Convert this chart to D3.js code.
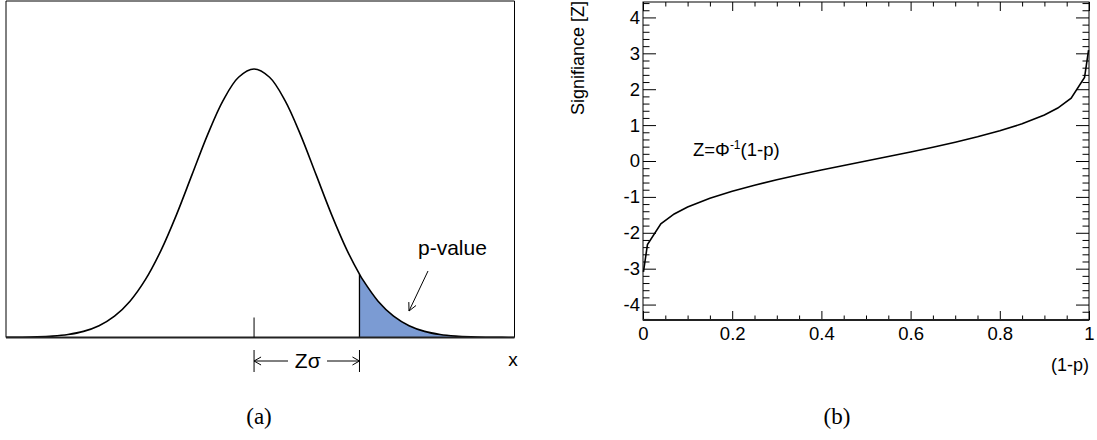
<!DOCTYPE html>
<html>
<head>
<meta charset="utf-8">
<script src="https://cdn.jsdelivr.net/npm/d3@7"></script>
<style>
  html, body { margin: 0; padding: 0; background: #fff; }
  svg { display: block; }
  text { font-family: "Liberation Sans", Arial, sans-serif; fill: #000; }
  .serif { font-family: "Liberation Serif", "DejaVu Serif", serif; }
</style>
</head>
<body>
<svg id="fig" width="1097" height="440"></svg>
<script>
// ---- panel (a): normal density, in units of sigma ----
const gaussX = [-4, -3.75, -3.5, -3.25, -3, -2.75, -2.5, -2.25, -2, -1.75, -1.5, -1.25, -1,
  -0.75, -0.5, -0.25, 0, 0.25, 0.5, 0.75, 1, 1.25, 1.5, 1.7, 1.75, 2, 2.25, 2.5, 2.75,
  3, 3.25, 3.5, 3.75, 4, 4.25];
const gaussPdf = [0.00013, 0.00035, 0.00087, 0.00203, 0.00443, 0.00909, 0.01753, 0.03174,
  0.05399, 0.08628, 0.12952, 0.18265, 0.24197, 0.30114, 0.35207, 0.38667, 0.39894,
  0.38667, 0.35207, 0.30114, 0.24197, 0.18265, 0.12952, 0.09405, 0.08628, 0.05399,
  0.03174, 0.01753, 0.00909, 0.00443, 0.00203, 0.00087, 0.00035, 0.00013, 0.00005];
const zCut = 1.7;            // observed significance, in sigma
const meanX = 0;

// ---- panel (b): significance versus (1-p) ----
const oneMinusP = [0.001, 0.01, 0.04, 0.07, 0.1, 0.15, 0.2, 0.25, 0.3, 0.35, 0.4, 0.45,
  0.5, 0.55, 0.6, 0.65, 0.7, 0.75, 0.8, 0.85, 0.9, 0.93, 0.96, 0.99, 0.999];
const significance = [-3.090, -2.326, -1.751, -1.476, -1.282, -1.036, -0.842, -0.674,
  -0.524, -0.385, -0.253, -0.126, 0, 0.126, 0.253, 0.385, 0.524, 0.674, 0.842, 1.036,
  1.282, 1.476, 1.751, 2.326, 3.090];
const xMajorTicks = [0, 0.2, 0.4, 0.6, 0.8, 1];
const xTickLabels = ["0", "0.2", "0.4", "0.6", "0.8", "1"];
const yMajorTicks = [-4, -3, -2, -1, 0, 1, 2, 3, 4];
const yTickLabels = ["-4", "-3", "-2", "-1", "0", "1", "2", "3", "4"];

const svg = d3.select("#fig");

// ================= panel (a) =================
const A = { left: 6, right: 514.5, top: 1, bottom: 337.5 };
const xa = d3.scaleLinear().domain([-4, 4.2]).range([A.left, A.right]);
const ya = d3.scaleLinear().domain([0, 0.5]).range([A.bottom, A.top]);

svg.append("defs").append("clipPath").attr("id", "clipA")
  .append("rect").attr("x", A.left).attr("y", A.top)
  .attr("width", A.right - A.left).attr("height", A.bottom - A.top);

const pts = gaussX.map((x, i) => ({ x, y: gaussPdf[i] }));
const gA = svg.append("g").attr("clip-path", "url(#clipA)");

// shaded tail beyond Z sigma
const tail = pts.filter(d => d.x >= zCut);
gA.append("path")
  .datum(tail)
  .attr("fill", "#7b9bd3")
  .attr("d", d3.area().x(d => xa(d.x)).y0(ya(0)).y1(d => ya(d.y)).curve(d3.curveCatmullRom));

gA.append("path")
  .datum(pts)
  .attr("fill", "none")
  .attr("stroke", "#000")
  .attr("stroke-width", 1.6)
  .attr("d", d3.line().x(d => xa(d.x)).y(d => ya(d.y)).curve(d3.curveCatmullRom));

// vertical edge of the tail
svg.append("line")
  .attr("x1", xa(zCut)).attr("x2", xa(zCut))
  .attr("y1", ya(0)).attr("y2", ya(gaussPdf[gaussX.indexOf(zCut)]))
  .attr("stroke", "#000").attr("stroke-width", 1.3);

// frame
svg.append("path")
  .attr("d", `M${A.left},${A.bottom}V${A.top}H${A.right}V${A.bottom}`)
  .attr("fill", "none").attr("stroke", "#000").attr("stroke-width", 1);
svg.append("line")
  .attr("x1", A.left).attr("x2", A.right).attr("y1", A.bottom).attr("y2", A.bottom)
  .attr("stroke", "#222").attr("stroke-width", 2);

// mean marker
svg.append("line")
  .attr("x1", xa(meanX)).attr("x2", xa(meanX)).attr("y1", A.bottom - 20).attr("y2", A.bottom)
  .attr("stroke", "#000").attr("stroke-width", 1);

// open arrowhead helper
function arrowHead(g, x, y, angle, len, half) {
  const c = Math.cos(angle), s = Math.sin(angle);
  const bx = x - len * c, by = y - len * s;
  g.append("path")
    .attr("d", `M${bx - half * s},${by + half * c}L${x},${y}L${bx + half * s},${by - half * c}`)
    .attr("fill", "none").attr("stroke", "#000").attr("stroke-width", 1);
}

// p-value label and pointer
svg.append("text").attr("x", 418).attr("y", 255).attr("font-size", 21).text("p-value");
const p0 = [428, 271], p1 = [409, 311];
svg.append("line").attr("x1", p0[0]).attr("y1", p0[1]).attr("x2", p1[0]).attr("y2", p1[1])
  .attr("stroke", "#000").attr("stroke-width", 1);
arrowHead(svg, p1[0], p1[1], Math.atan2(p1[1] - p0[1], p1[0] - p0[0]), 8, 4);

// Z sigma dimension line
const xm = xa(meanX), xz = xa(zCut), yd = 361;
[xm, xz].forEach(x => svg.append("line").attr("x1", x).attr("x2", x)
  .attr("y1", 350).attr("y2", 372).attr("stroke", "#000").attr("stroke-width", 1));
svg.append("line").attr("x1", xm).attr("x2", 288).attr("y1", yd).attr("y2", yd)
  .attr("stroke", "#000").attr("stroke-width", 1);
svg.append("line").attr("x1", 327).attr("x2", xz).attr("y1", yd).attr("y2", yd)
  .attr("stroke", "#000").attr("stroke-width", 1);
arrowHead(svg, xm, yd, Math.PI, 7, 4);
arrowHead(svg, xz, yd, 0, 7, 4);
svg.append("text").attr("x", (xm + xz) / 2 + 1).attr("y", 368).attr("font-size", 21)
  .attr("text-anchor", "middle").text("Zσ");
svg.append("text").attr("x", 513).attr("y", 366).attr("font-size", 19)
  .attr("text-anchor", "middle").text("x");

// ================= panel (b) =================
const B = { left: 643, right: 1089, top: 2, bottom: 320 };
const xb = d3.scaleLinear().domain([0, 1]).range([B.left, B.right]);
const yb = d3.scaleLinear().domain([-4.43, 4.43]).range([B.bottom, B.top]);

const xMinor = d3.range(0, 1.0001, 0.05).map(v => +v.toFixed(2)).filter(v => !xMajorTicks.includes(v));
const yMinor = d3.range(-4.4, 4.41, 0.2).map(v => +v.toFixed(1)).filter(v => !yMajorTicks.includes(v));

function styleAxis(g) {
  g.select(".domain").remove();
  g.attr("font-family", null).attr("font-size", null);
  g.selectAll(".tick line").attr("stroke", "#000").attr("stroke-width", 1);
  g.selectAll(".tick text").attr("fill", "#000");
}

// bottom: major with labels, minor
svg.append("g").attr("transform", `translate(0,${B.bottom})`)
  .call(d3.axisBottom(xb).tickValues(xMajorTicks).tickSize(-9).tickPadding(7)
    .tickFormat((d, i) => xTickLabels[i]))
  .call(styleAxis).call(g => g.selectAll(".tick text").attr("font-size", 18.5));
svg.append("g").attr("transform", `translate(0,${B.bottom})`)
  .call(d3.axisBottom(xb).tickValues(xMinor).tickSize(-4.5).tickFormat(""))
  .call(styleAxis);
// top mirror
svg.append("g").attr("transform", `translate(0,${B.top})`)
  .call(d3.axisTop(xb).tickValues(xMajorTicks).tickSize(-9).tickFormat(""))
  .call(styleAxis);
svg.append("g").attr("transform", `translate(0,${B.top})`)
  .call(d3.axisTop(xb).tickValues(xMinor).tickSize(-4.5).tickFormat(""))
  .call(styleAxis);
// left: major with labels, minor
svg.append("g").attr("transform", `translate(${B.left},0)`)
  .call(d3.axisLeft(yb).tickValues(yMajorTicks).tickSize(-13).tickPadding(3)
    .tickFormat((d, i) => yTickLabels[i]))
  .call(styleAxis).call(g => g.selectAll(".tick text").attr("font-size", 18.5));
svg.append("g").attr("transform", `translate(${B.left},0)`)
  .call(d3.axisLeft(yb).tickValues(yMinor).tickSize(-6.5).tickFormat(""))
  .call(styleAxis);
// right mirror
svg.append("g").attr("transform", `translate(${B.right},0)`)
  .call(d3.axisRight(yb).tickValues(yMajorTicks).tickSize(-13).tickFormat(""))
  .call(styleAxis);
svg.append("g").attr("transform", `translate(${B.right},0)`)
  .call(d3.axisRight(yb).tickValues(yMinor).tickSize(-6.5).tickFormat(""))
  .call(styleAxis);

// frame
svg.append("rect").attr("x", B.left).attr("y", B.top)
  .attr("width", B.right - B.left).attr("height", B.bottom - B.top)
  .attr("fill", "none").attr("stroke", "#000").attr("stroke-width", 1);
svg.append("line").attr("x1", B.left).attr("x2", B.right).attr("y1", B.bottom).attr("y2", B.bottom)
  .attr("stroke", "#222").attr("stroke-width", 2);

// inverse-CDF curve
svg.append("path")
  .datum(oneMinusP.map((p, i) => ({ p, z: significance[i] })))
  .attr("fill", "none").attr("stroke", "#000").attr("stroke-width", 1.6)
  .attr("d", d3.line().x(d => xb(d.p)).y(d => yb(d.z)));

// formula label
const f = svg.append("text").attr("x", 693).attr("y", 156).attr("font-size", 18.5);
f.append("tspan").text("Z=Φ");
f.append("tspan").attr("dy", -7).attr("font-size", 12).text("-1");
f.append("tspan").attr("dy", 7).text("(1-p)");

// axis titles
svg.append("text").attr("x", B.right).attr("y", 371).attr("font-size", 18)
  .attr("text-anchor", "end").text("(1-p)");
svg.append("text").attr("transform", "translate(584,1) rotate(-90)")
  .attr("font-size", 18).attr("text-anchor", "end").text("Signifiance [Z]");

// panel captions
svg.append("text").attr("class", "serif").attr("x", 259).attr("y", 424)
  .attr("font-size", 23).attr("text-anchor", "middle").text("(a)");
svg.append("text").attr("class", "serif").attr("x", 837).attr("y", 424)
  .attr("font-size", 23).attr("text-anchor", "middle").text("(b)");
</script>
</body>
</html>
